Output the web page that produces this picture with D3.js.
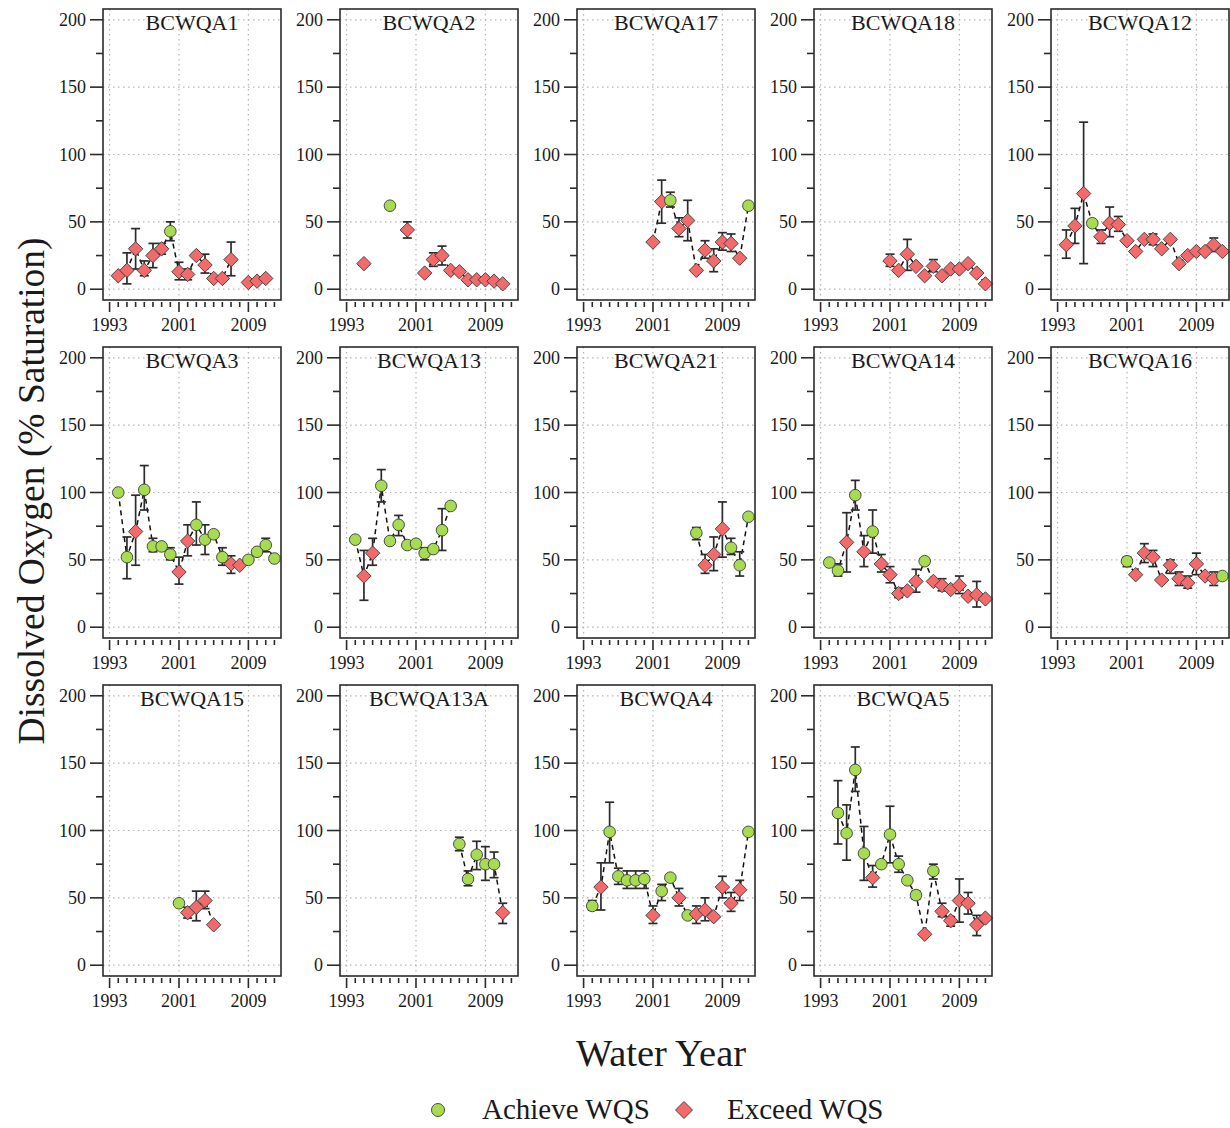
<!DOCTYPE html>
<html>
<head>
<meta charset="utf-8">
<title>Dissolved Oxygen by station</title>
<style>
  html, body { margin: 0; padding: 0; background: #fff; }
  svg { display: block; }
  svg text { font-family: "Liberation Serif", "Times New Roman", Times, "DejaVu Serif", serif; fill: #1a1a1a; }
</style>
</head>
<body>
<div id="chart"></div>
<script src="https://cdnjs.cloudflare.com/ajax/libs/d3/7.8.5/d3.min.js"></script>
<script>

// each row: [water year, mean % saturation, lower bar, upper bar, status]  A = achieve WQS, E = exceed WQS
var BCWQA1 = [
  [1994, 10, null, null, "E"], [1995, 14, 4, 27, "E"], [1996, 30, 15, 45, "E"], [1997, 14, 10, 21, "E"],
  [1998, 25, 16, 34, "E"], [1999, 30, 26, 34, "E"], [2000, 43, 36, 50, "A"], [2001, 13, 7, 20, "E"],
  [2002, 11, 7, 15, "E"], [2003, 25, null, null, "E"], [2004, 18, 12, 26, "E"], [2005, 8, null, null, "E"],
  [2006, 8, null, null, "E"], [2007, 22, 10, 35, "E"], [2009, 5, null, null, "E"], [2010, 6, null, null, "E"],
  [2011, 8, null, null, "E"]
];
var BCWQA2 = [
  [1995, 19, null, null, "E"], [1998, 62, null, null, "A"], [2000, 44, 38, 50, "E"], [2002, 12, null, null, "E"],
  [2003, 22, 17, 27, "E"], [2004, 25, 18, 32, "E"], [2005, 14, null, null, "E"], [2006, 13, null, null, "E"],
  [2007, 7, null, null, "E"], [2008, 7, null, null, "E"], [2009, 7, null, null, "E"], [2010, 6, null, null, "E"],
  [2011, 4, null, null, "E"]
];
var BCWQA17 = [
  [2001, 35, null, null, "E"], [2002, 65, 49, 81, "E"], [2003, 66, 61, 72, "A"], [2004, 45, 39, 53, "E"],
  [2005, 51, 36, 66, "E"], [2006, 14, null, null, "E"], [2007, 29, 23, 36, "E"], [2008, 21, 13, 30, "E"],
  [2009, 35, 29, 42, "E"], [2010, 34, 28, 41, "E"], [2011, 23, null, null, "E"], [2012, 62, null, null, "A"]
];
var BCWQA18 = [
  [2001, 21, 17, 26, "E"], [2002, 14, null, null, "E"], [2003, 26, 14, 37, "E"], [2004, 17, null, null, "E"],
  [2005, 10, null, null, "E"], [2006, 17, 13, 22, "E"], [2007, 10, null, null, "E"], [2008, 15, null, null, "E"],
  [2009, 15, null, null, "E"], [2010, 19, null, null, "E"], [2011, 12, null, null, "E"], [2012, 4, null, null, "E"]
];
var BCWQA12 = [
  [1994, 33, 23, 44, "E"], [1995, 47, 34, 60, "E"], [1996, 71, 19, 124, "E"], [1997, 49, null, null, "A"],
  [1998, 39, 34, 44, "E"], [1999, 49, 39, 61, "E"], [2000, 48, 43, 54, "E"], [2001, 36, null, null, "E"],
  [2002, 28, null, null, "E"], [2003, 37, null, null, "E"], [2004, 37, 33, 41, "E"], [2005, 30, null, null, "E"],
  [2006, 37, null, null, "E"], [2007, 19, null, null, "E"], [2008, 25, null, null, "E"], [2009, 28, null, null, "E"],
  [2010, 28, null, null, "E"], [2011, 33, 28, 38, "E"], [2012, 28, null, null, "E"]
];
var BCWQA3 = [
  [1994, 100, null, null, "A"], [1995, 52, 36, 67, "A"], [1996, 71, 46, 98, "E"], [1997, 102, 87, 120, "A"],
  [1998, 60, 56, 66, "A"], [1999, 60, null, null, "A"], [2000, 54, 50, 59, "A"], [2001, 41, 32, 52, "E"],
  [2002, 64, 53, 76, "E"], [2003, 76, 61, 93, "A"], [2004, 65, 54, 76, "A"], [2005, 69, null, null, "A"],
  [2006, 52, 46, 59, "A"], [2007, 47, 40, 53, "E"], [2008, 46, null, null, "E"], [2009, 50, null, null, "A"],
  [2010, 56, null, null, "A"], [2011, 61, 56, 66, "A"], [2012, 51, null, null, "A"]
];
var BCWQA13 = [
  [1994, 65, null, null, "A"], [1995, 38, 20, 57, "E"], [1996, 55, 46, 66, "E"], [1997, 105, 93, 117, "A"],
  [1998, 64, null, null, "A"], [1999, 76, 68, 83, "A"], [2000, 61, null, null, "A"], [2001, 62, null, null, "A"],
  [2002, 55, 50, 59, "A"], [2003, 58, null, null, "A"], [2004, 72, 57, 88, "A"], [2005, 90, null, null, "A"]
];
var BCWQA21 = [
  [2006, 70, 65, 74, "A"], [2007, 46, 40, 54, "E"], [2008, 54, 42, 67, "E"], [2009, 73, 52, 93, "E"],
  [2010, 59, 54, 66, "A"], [2011, 46, 38, 56, "A"], [2012, 82, null, null, "A"]
];
var BCWQA14 = [
  [1994, 48, null, null, "A"], [1995, 42, 38, 47, "A"], [1996, 63, 41, 85, "E"], [1997, 98, 87, 109, "A"],
  [1998, 56, 45, 68, "E"], [1999, 71, 55, 87, "A"], [2000, 47, 41, 54, "E"], [2001, 39, 33, 45, "E"],
  [2002, 25, 22, 29, "E"], [2003, 27, null, null, "E"], [2004, 34, 26, 43, "E"], [2005, 49, null, null, "A"],
  [2006, 34, null, null, "E"], [2007, 31, 27, 36, "E"], [2008, 28, null, null, "E"], [2009, 31, 25, 38, "E"],
  [2010, 23, null, null, "E"], [2011, 24, 15, 34, "E"], [2012, 21, null, null, "E"]
];
var BCWQA16 = [
  [2001, 49, 45, 52, "A"], [2002, 39, null, null, "E"], [2003, 55, 48, 62, "E"], [2004, 52, 45, 57, "E"],
  [2005, 35, null, null, "E"], [2006, 46, 40, 50, "E"], [2007, 36, 31, 41, "E"], [2008, 33, 29, 38, "E"],
  [2009, 47, 39, 55, "E"], [2010, 38, null, null, "E"], [2011, 36, 31, 41, "E"], [2012, 38, null, null, "A"]
];
var BCWQA15 = [
  [2001, 46, null, null, "A"], [2002, 39, 35, 43, "E"], [2003, 43, 33, 55, "E"], [2004, 48, 42, 55, "E"],
  [2005, 30, null, null, "E"]
];
var BCWQA13A = [
  [2006, 90, 85, 95, "A"], [2007, 64, 59, 70, "A"], [2008, 82, 71, 92, "A"], [2009, 75, 63, 88, "A"],
  [2010, 75, 65, 84, "A"], [2011, 39, 31, 46, "E"]
];
var BCWQA4 = [
  [1994, 44, 41, 48, "A"], [1995, 58, 41, 76, "E"], [1996, 99, 76, 121, "A"], [1997, 66, 60, 72, "A"],
  [1998, 63, 57, 70, "A"], [1999, 63, 57, 70, "A"], [2000, 64, 57, 70, "A"], [2001, 37, 31, 44, "E"],
  [2002, 55, 48, 60, "A"], [2003, 65, null, null, "A"], [2004, 50, 44, 57, "E"], [2005, 37, null, null, "A"],
  [2006, 38, 31, 44, "E"], [2007, 41, 33, 50, "E"], [2008, 36, null, null, "E"], [2009, 58, 50, 66, "E"],
  [2010, 46, 40, 54, "E"], [2011, 56, 48, 63, "E"], [2012, 99, null, null, "A"]
];
var BCWQA5 = [
  [1995, 113, 90, 137, "A"], [1996, 98, 78, 119, "A"], [1997, 145, 129, 162, "A"], [1998, 83, 63, 103, "A"],
  [1999, 65, 58, 74, "E"], [2000, 75, null, null, "A"], [2001, 97, 76, 118, "A"], [2002, 75, 69, 81, "A"],
  [2003, 63, null, null, "A"], [2004, 52, 49, 55, "A"], [2005, 23, null, null, "E"], [2006, 70, 64, 75, "A"],
  [2007, 40, 36, 46, "E"], [2008, 33, 29, 36, "E"], [2009, 48, 32, 64, "E"], [2010, 46, 38, 54, "E"],
  [2011, 30, 22, 37, "E"], [2012, 35, null, null, "E"]
];

var stationNames = ["BCWQA1", "BCWQA2", "BCWQA17", "BCWQA18", "BCWQA12",
                    "BCWQA3", "BCWQA13", "BCWQA21", "BCWQA14", "BCWQA16",
                    "BCWQA15", "BCWQA13A", "BCWQA4", "BCWQA5"];
var stationData = {
  BCWQA1: BCWQA1, BCWQA2: BCWQA2, BCWQA17: BCWQA17, BCWQA18: BCWQA18, BCWQA12: BCWQA12,
  BCWQA3: BCWQA3, BCWQA13: BCWQA13, BCWQA21: BCWQA21, BCWQA14: BCWQA14, BCWQA16: BCWQA16,
  BCWQA15: BCWQA15, BCWQA13A: BCWQA13A, BCWQA4: BCWQA4, BCWQA5: BCWQA5
};

var yMajor = [0, 50, 100, 150, 200];
var yMinor = [25, 75, 125, 175];
var xLabels = [1993, 2001, 2009];
var xYears = d3.range(1993, 2013);
var legendItems = ["Achieve WQS", "Exceed WQS"];

var green = "#a8dc50", red = "#f46a6a", ink = "#2b2b2b";
var serif = "'Liberation Serif', 'Times New Roman', Times, 'DejaVu Serif', serif";

var width = 1230, height = 1128;
var colLeft = [103, 340, 577, 814, 1051];
var rowTop = [9, 347, 685];
var pw = 178, ph = 291;

var svg = d3.select("#chart").append("svg")
    .attr("width", width)
    .attr("height", height)
    .attr("font-family", serif);

svg.append("rect").attr("width", width).attr("height", height).attr("fill", "#fff");

var diamond = function(r) {
  return "M0," + (-r) + "L" + r + ",0L0," + r + "L" + (-r) + ",0Z";
};

stationNames.forEach(function(name, i) {
  var left = colLeft[i % 5], top = rowTop[Math.floor(i / 5)];
  var x = d3.scaleLinear().domain([1992.24, 2012.76]).range([left, left + pw]);
  var y = d3.scaleLinear().domain([-8, 208]).range([top + ph, top]);
  var data = stationData[name];
  var g = svg.append("g");

  // dotted grid
  g.selectAll(".hg").data(yMajor).enter().append("line")
      .attr("x1", left).attr("x2", left + pw)
      .attr("y1", function(d) { return y(d); }).attr("y2", function(d) { return y(d); })
      .attr("stroke", "#b5b5b5").attr("stroke-width", 1.2).attr("stroke-dasharray", "1.5,3.5");
  g.selectAll(".vg").data(xLabels).enter().append("line")
      .attr("y1", top).attr("y2", top + ph)
      .attr("x1", function(d) { return x(d); }).attr("x2", function(d) { return x(d); })
      .attr("stroke", "#b5b5b5").attr("stroke-width", 1.2).attr("stroke-dasharray", "1.5,3.5");

  // y axis ticks + labels
  g.selectAll(".ymaj").data(yMajor).enter().append("line")
      .attr("x1", left - 13).attr("x2", left)
      .attr("y1", function(d) { return y(d); }).attr("y2", function(d) { return y(d); })
      .attr("stroke", ink).attr("stroke-width", 1.6);
  g.selectAll(".ymin").data(yMinor).enter().append("line")
      .attr("x1", left - 7).attr("x2", left)
      .attr("y1", function(d) { return y(d); }).attr("y2", function(d) { return y(d); })
      .attr("stroke", ink).attr("stroke-width", 1.6);
  g.selectAll(".ylab").data(yMajor).enter().append("text")
      .attr("x", left - 17).attr("y", function(d) { return y(d) + 6; })
      .attr("text-anchor", "end").attr("font-size", 18)
      .text(function(d) { return d; });

  // x axis ticks + labels
  g.selectAll(".xt").data(xYears).enter().append("line")
      .attr("x1", function(d) { return x(d); }).attr("x2", function(d) { return x(d); })
      .attr("y1", top + ph + 2)
      .attr("y2", function(d) { return top + ph + (xLabels.indexOf(d) >= 0 ? 12 : 7); })
      .attr("stroke", ink).attr("stroke-width", 1.6);
  g.selectAll(".xlab").data(xLabels).enter().append("text")
      .attr("x", function(d) { return x(d); }).attr("y", top + ph + 31)
      .attr("text-anchor", "middle").attr("font-size", 18)
      .text(function(d) { return d; });

  // dashed line, only between consecutive water years
  var runs = [], cur = [];
  data.forEach(function(d, k) {
    if (k > 0 && d[0] - data[k - 1][0] !== 1) { runs.push(cur); cur = []; }
    cur.push(d);
  });
  runs.push(cur);
  var line = d3.line().x(function(d) { return x(d[0]); }).y(function(d) { return y(d[1]); });
  g.selectAll(".run").data(runs.filter(function(r) { return r.length > 1; })).enter().append("path")
      .attr("d", line).attr("fill", "none")
      .attr("stroke", "#111").attr("stroke-width", 1.5).attr("stroke-dasharray", "5,4");

  // error bars
  var bars = data.filter(function(d) { return d[2] !== null; });
  var eb = g.selectAll(".eb").data(bars).enter().append("g").attr("stroke", ink).attr("stroke-width", 1.7);
  eb.append("line")
      .attr("x1", function(d) { return x(d[0]); }).attr("x2", function(d) { return x(d[0]); })
      .attr("y1", function(d) { return y(d[2]); }).attr("y2", function(d) { return y(d[3]); });
  [2, 3].forEach(function(j) {
    eb.append("line")
        .attr("x1", function(d) { return x(d[0]) - 4.5; }).attr("x2", function(d) { return x(d[0]) + 4.5; })
        .attr("y1", function(d) { return y(d[j]); }).attr("y2", function(d) { return y(d[j]); });
  });

  // points
  g.selectAll(".pt").data(data).enter().append("path")
      .attr("transform", function(d) { return "translate(" + x(d[0]) + "," + y(d[1]) + ")"; })
      .attr("d", function(d) { return d[4] === "A" ? d3.symbol().type(d3.symbolCircle).size(Math.PI * 5.8 * 5.8)() : diamond(7.2); })
      .attr("fill", function(d) { return d[4] === "A" ? green : red; })
      .attr("stroke", "#3a3a3a").attr("stroke-width", 0.9);

  // frame + title
  g.append("rect").attr("x", left).attr("y", top).attr("width", pw).attr("height", ph)
      .attr("fill", "none").attr("stroke", ink).attr("stroke-width", 1.6);
  g.append("text").attr("x", left + pw / 2).attr("y", top + 21)
      .attr("text-anchor", "middle").attr("font-size", 22).text(name);
});

// axis titles
svg.append("text")
    .attr("transform", "translate(44,491) rotate(-90)")
    .attr("text-anchor", "middle").attr("font-size", 37.5)
    .text("Dissolved Oxygen (% Saturation)");
svg.append("text")
    .attr("x", 661).attr("y", 1066)
    .attr("text-anchor", "middle").attr("font-size", 38.5)
    .text("Water Year");

// legend
var lg = svg.append("g");
lg.append("circle").attr("cx", 438).attr("cy", 1110).attr("r", 6.5)
    .attr("fill", green).attr("stroke", "#3a3a3a").attr("stroke-width", 0.9);
lg.append("path").attr("transform", "translate(684,1110)").attr("d", diamond(8.5))
    .attr("fill", red).attr("stroke", "#3a3a3a").attr("stroke-width", 0.9);
lg.append("text").attr("x", 482).attr("y", 1119).attr("font-size", 29).text(legendItems[0]);
lg.append("text").attr("x", 727).attr("y", 1119).attr("font-size", 29).text(legendItems[1]);

</script>
</body>
</html>
